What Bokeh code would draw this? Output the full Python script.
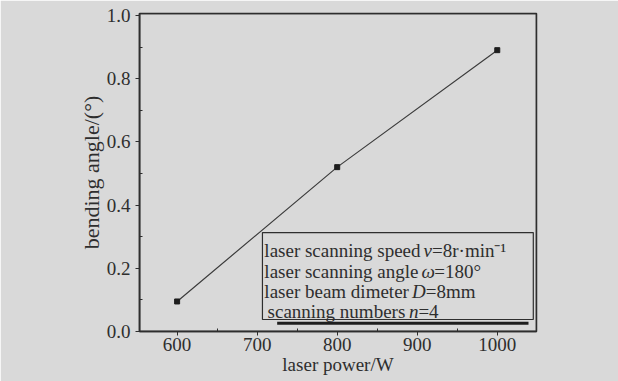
from bokeh.plotting import figure
from bokeh.models import FixedTicker, Label, BoxAnnotation, Range1d, NumeralTickFormatter
from bokeh.embed import file_html
from bokeh.resources import INLINE

# data
power = [600, 800, 1000]
angle = [0.095, 0.52, 0.89]
x_ticks = [600, 700, 800, 900, 1000]
x_minor = [550, 650, 750, 850, 950, 1050]
y_ticks = [0.0, 0.2, 0.4, 0.6, 0.8, 1.0]
y_minor = [0.1, 0.3, 0.5, 0.7, 0.9]
x_title = "laser power/W"
y_title = "bending angle/(°)"
note_lines = [
    [("laser scanning speed ", False), ("v", True), ("=8r·min⁻¹", False)],
    [("laser scanning angle ", False), ("ω", True), ("=180°", False)],
    [("laser beam dimeter ", False), ("D", True), ("=8mm", False)],
    [("scanning numbers ", False), ("n", True), ("=4", False)],
]

BG = "#d9d9d9"
INK = "#2e2e2e"
FONT = "Liberation Serif"
FS = "19px"

p = figure(width=618, height=381, output_backend="svg", toolbar_location=None,
           x_range=Range1d(553, 1049), y_range=Range1d(0, 1.006),
           min_border_left=139, min_border_right=82, min_border_top=13,
           min_border_bottom=50,
           background_fill_color=BG, border_fill_color=BG)
p.grid.visible = False
p.outline_line_color = INK
p.outline_line_alpha = 1.0
p.outline_line_width = 1.5

for ax in (p.xaxis[0], p.yaxis[0]):
    ax.axis_line_color = INK
    ax.axis_line_width = 1.5
    ax.major_tick_line_color = INK
    ax.minor_tick_line_color = INK
    ax.major_tick_out = 4
    ax.major_tick_in = 0
    ax.minor_tick_out = 0
    ax.minor_tick_in = 3
    ax.major_label_text_font = FONT
    ax.major_label_text_font_size = FS
    ax.major_label_text_color = INK
    ax.axis_label_text_font = FONT
    ax.axis_label_text_font_style = "normal"
    ax.axis_label_text_color = INK

p.xaxis.ticker = FixedTicker(ticks=x_ticks, minor_ticks=x_minor)
p.yaxis.ticker = FixedTicker(ticks=y_ticks, minor_ticks=y_minor)
p.yaxis.formatter = NumeralTickFormatter(format="0.0")
p.xaxis.major_label_standoff = 2
p.yaxis.major_label_standoff = 5
p.yaxis.axis_label = y_title
p.yaxis.axis_label_text_font_size = "22px"
p.yaxis.axis_label_standoff = 0
p.xaxis.axis_label = x_title
p.xaxis.axis_label_text_font_size = "19px"
p.xaxis.axis_label_standoff = 0

# frame outline
p.add_layout(BoxAnnotation(fill_alpha=0, line_color=INK, line_alpha=1.0,
                           line_width=1.5))

p.line(power, angle, line_color="#3c3c3c", line_width=1.2)
p.scatter(power, angle, marker="square", size=5, color="#1e1e1e")

# text box
p.add_layout(BoxAnnotation(left=706.6, right=1045, bottom=0.038, top=0.313,
                           fill_color=BG, fill_alpha=1.0,
                           line_color=INK, line_alpha=1.0, line_width=1.2))
p.add_layout(BoxAnnotation(left=725, right=1039, bottom=0.021, top=0.031,
                           fill_color="#1e1e1e", fill_alpha=1.0,
                           line_alpha=0))

baselines = [0.256, 0.191, 0.127, 0.062]
starts = [709, 709, 709, 713]

def seg_width(s, italic):
    # rough Times metrics in em
    m = {'l': .278, 'a': .444, 's': .389, 'e': .444, 'r': .333, ' ': .22,
         'c': .444, 'n': .5, 'i': .278, 'g': .5, 'p': .5, 'd': .5, 'b': .5,
         'm': .778, 't': .278, 'u': .5, 'v': .444, 'D': .722, 'ω': .67}
    return sum(m.get(ch, .5) for ch in s) * 19

for line, yb, x0 in zip(note_lines, baselines, starts):
    off = 0.0
    for text, it in line:
        p.add_layout(Label(x=x0, y=yb, x_offset=off, text=text, text_font=FONT,
                           text_font_size=FS, text_color=INK,
                           text_font_style="italic" if it else "normal",
                           text_baseline="alphabetic", text_align="left"))
        off += seg_width(text, it)

open("out.html", "w").write(file_html(p, INLINE))
